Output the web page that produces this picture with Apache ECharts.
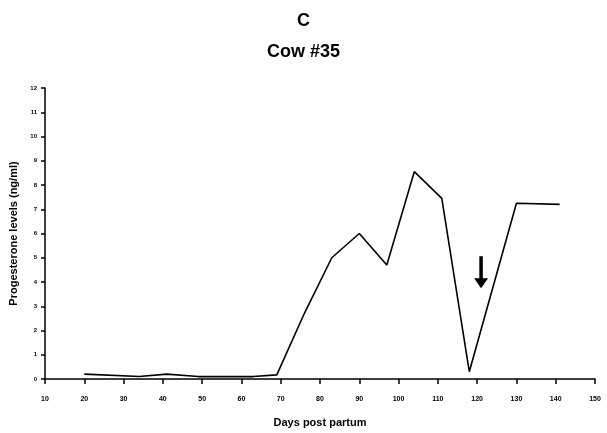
<!DOCTYPE html>
<html><head><meta charset="utf-8">
<script src="https://cdn.jsdelivr.net/npm/echarts@6/dist/echarts.min.js"></script>
<style>html,body{margin:0;padding:0;background:#fff}#c{width:607px;height:433px}</style>
</head><body><div id="c"></div>
<script>
const days = [20, 34, 41, 49, 63, 69, 76, 83, 90, 97, 104, 111, 118, 130, 141];
const progesterone = [0.2, 0.1, 0.2, 0.1, 0.1, 0.17, 2.7, 5.0, 6.0, 4.7, 8.55, 7.45, 0.3, 7.25, 7.2];
const xTicks = [10, 20, 30, 40, 50, 60, 70, 80, 90, 100, 110, 120, 130, 140, 150];
const yTicks = [0,1,2,3,4,5,6,7,8,9,10,11,12];
const arrowAt = [121, 4.4];

const chart = echarts.init(document.getElementById('c'));
const font = 'Liberation Sans, Arial, sans-serif';
chart.setOption({
  animation: false,
  title: [
    {text: 'C', left: 'center', top: 7, textStyle: {fontFamily: font, fontSize: 18, fontWeight: 'bold', color: '#000'}},
    {text: 'Cow #35', left: 'center', top: 38, textStyle: {fontFamily: font, fontSize: 18, fontWeight: 'bold', color: '#000'}}
  ],
  grid: {left: 45, right: 12, top: 88, bottom: 53},
  xAxis: {
    type: 'value', min: 10, max: 150, interval: 10,
    name: 'Days post partum', nameLocation: 'middle', nameGap: 38,
    nameTextStyle: {fontFamily: font, fontSize: 11, fontWeight: 'bold', color: '#000'},
    axisLine: {lineStyle: {color: '#000', width: 1.5}},
    axisTick: {show: true, length: 5, lineStyle: {color: '#000', width: 1.5}},
    axisLabel: {fontFamily: font, fontSize: 7, fontWeight: 'bold', color: '#000', margin: 17},
    splitLine: {show: false}
  },
  yAxis: {
    type: 'value', min: 0, max: 12, interval: 1,
    name: 'Progesterone levels (ng/ml)', nameLocation: 'middle', nameGap: 24,
    nameTextStyle: {fontFamily: font, fontSize: 11, fontWeight: 'bold', color: '#000'},
    axisLine: {show: true, lineStyle: {color: '#000', width: 1.5}},
    axisTick: {show: true, length: 4, lineStyle: {color: '#000', width: 1.5}},
    axisLabel: {fontFamily: font, fontSize: 6, fontWeight: 'bold', color: '#000', margin: 8},
    splitLine: {show: false}
  },
  series: [{
    type: 'line',
    data: days.map((d, i) => [d, progesterone[i]]),
    symbol: 'none',
    lineStyle: {color: '#000', width: 1.6},
    markPoint: {
      silent: true,
      data: [{coord: arrowAt}],
      symbol: 'path://M6,0 L10,0 L10,22 L16,22 L8,32 L0,22 L6,22 Z',
      symbolSize: [14, 32],
      itemStyle: {color: '#000'},
      label: {show: false}
    }
  }]
});
</script></body></html>
